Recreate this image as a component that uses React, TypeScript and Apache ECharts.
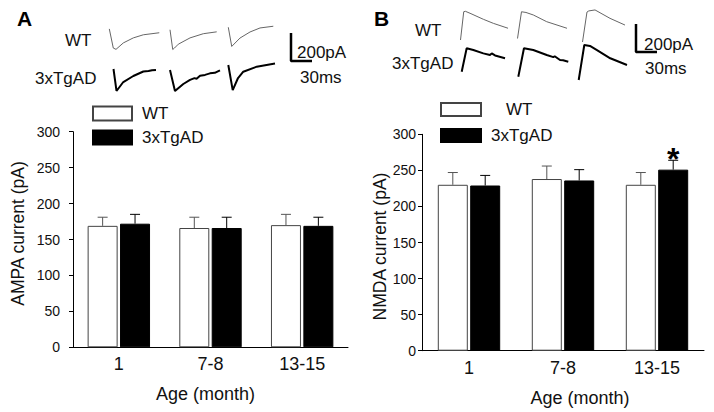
import React, { useEffect, useRef } from 'react';
import * as echarts from 'echarts';

const FONT = '"Liberation Sans", Arial, Helvetica, sans-serif';

// ---- bar chart data ----
const ageGroups = ['1', '7-8', '13-15'];
const seriesNames = ['WT', '3xTgAD'];
const ampaWT = [169, 166, 170];
const ampaWTErr = [12, 15, 15];
const ampaTg = [172, 166, 169];
const ampaTgErr = [13, 15, 12];
const nmdaWT = [230, 238, 230];
const nmdaWTErr = [17, 18, 17];
const nmdaTg = [229, 236, 251];
const nmdaTgErr = [14, 15, 13];
const nmdaTgMarks = ['', '', '*'];
const yMax = 300;
const yStep = 50;

// ---- example traces: [time (ms), current (pA)] ----
const ampaWTTraces = [
  [[0, 0], [5.7, -179], [9.6, -191], [20, -131], [34.3, -84], [48.6, -55], [71.4, -36]],
  [[0, 0], [3.9, -179], [6.4, -166], [11.9, -131], [28.6, -74], [47.6, -36], [66.7, -19]],
  [[0, 0], [4.9, -190], [16.7, -107], [31, -47], [45.3, -7], [64.3, 10]],
];
const ampaTgTraces = [
  [[0, 0], [4.3, -157], [14, -93], [28.3, -50], [42.6, -18], [50, -14], [55, -9], [60.7, -7]],
  [[0, 0], [7.1, -150], [19, -100], [28.6, -71], [35, -58], [38, -63], [42.9, -41], [50, -35], [57.1, -24], [64, -20], [71.4, -2]],
  [[0, 0], [6.3, -179], [13.9, -93], [21.4, -48], [40.6, -12], [66.7, 10]],
];
const nmdaWTTraces = [
  [[0, 0], [4.6, 202], [7, 205], [13.6, 191], [32.6, 148], [46.9, 119], [67.9, 84]],
  [[0, 0], [5.7, 191], [12.1, 186], [22.6, 168], [41.7, 120], [70.7, 73]],
  [[0, 0], [6.4, 214], [9, 222], [17.9, 229], [39.3, 169], [60.7, 121]],
];
const nmdaTgTraces = [
  [[0, 0], [7.1, 167], [16.6, 155], [30.9, 131], [40.4, 119], [42.9, 131], [47.6, 116], [61.9, 96]],
  [[0, 0], [8.1, 203], [21.4, 191], [40.6, 155], [50, 140], [52, 146], [59.6, 119], [64, 117], [71.4, 107]],
  [[0, 0], [8, 250], [16.1, 243], [26.1, 214], [45.1, 155], [69, 107]],
];
const scaleBar = [[0, 200], [0, 0], [30, 0]]; // 200 pA, 30 ms

// trace layout (pixel anchors of each trace start)
const ampaWTAnchors = [[109.3, 20], [170, 21.7], [228.3, 16.7]];
const ampaTgAnchors = [[113.5, 69], [170, 70], [228.3, 65]];
const nmdaWTAnchors = [[460.5, 40], [517.5, 38.5], [582.5, 42]];
const nmdaTgAnchors = [[461.7, 71.7], [518.3, 76.7], [578.7, 80]];
const scaleAnchors = [[291, 61], [636, 52]];

const PX_PER_MS = 0.7;
const PX_PER_PA = 0.14;
const T_MAX = 80;
const I_LIM = 270;

const BAR_W = 30;
const BAR_GAP = '8%';
const OFFSET = (BAR_W * 1.08) / 2;

export default function App() {
  const ref = useRef<HTMLDivElement>(null);
  useEffect(() => {
    if (!ref.current) return;
    const chart = echarts.init(ref.current, null, { renderer: 'svg' });

    const grids: any[] = [
      { left: 73, top: 131.7, width: 275, height: 215.6 },
      { left: 422, top: 134.3, width: 282, height: 216.4 },
    ];
    const xAxes: any[] = [];
    const yAxes: any[] = [];
    const series: any[] = [];

    const catAxis = (gi: number, namePad: number[]) => ({
      gridIndex: gi,
      type: 'category',
      data: ageGroups,
      axisLine: { lineStyle: { color: '#000', width: 1 } },
      axisTick: { show: false },
      axisLabel: { fontSize: 18, margin: 8, color: '#111', fontFamily: FONT },
      name: 'Age (month)',
      nameLocation: 'middle',
      nameGap: 38,
      nameTextStyle: { fontSize: 18, color: '#111', fontFamily: FONT, padding: namePad },
    });
    const valAxis = (gi: number, name: string, margin: number, nameGap: number, namePad: number[]) => ({
      gridIndex: gi,
      type: 'value',
      min: 0,
      max: yMax,
      interval: yStep,
      axisLine: { show: true, lineStyle: { color: '#000', width: 1 } },
      axisTick: { show: true, length: 4, lineStyle: { color: '#000' } },
      splitLine: { show: false },
      axisLabel: { fontSize: 14, color: '#111', margin, fontFamily: FONT },
      name,
      nameLocation: 'middle',
      nameGap,
      nameTextStyle: { fontSize: 17.5, color: '#111', fontFamily: FONT, padding: namePad },
    });
    xAxes.push(catAxis(0, [0, 10, 0, 0]), catAxis(1, [0, 0, 0, 34]));
    yAxes.push(
      valAxis(0, 'AMPA current (pA)', 13, 46, [0, 0, 0, 12]),
      valAxis(1, 'NMDA current (pA)', 6, 32, [0, 8, 0, 0]),
    );

    const barPair = (ai: number, wt: number[], tg: number[]) => [
      {
        type: 'bar', name: seriesNames[0], xAxisIndex: ai, yAxisIndex: ai, data: wt,
        barWidth: BAR_W, barGap: BAR_GAP,
        itemStyle: { color: '#fff', borderColor: '#444', borderWidth: 1 },
      },
      {
        type: 'bar', name: seriesNames[1], xAxisIndex: ai, yAxisIndex: ai, data: tg,
        barWidth: BAR_W, barGap: BAR_GAP,
        itemStyle: { color: '#000', borderColor: '#000', borderWidth: 1 },
      },
    ];
    const errSeries = (ai: number, means: number[], errs: number[], offset: number, color: string, marks?: string[]) => ({
      type: 'custom',
      xAxisIndex: ai,
      yAxisIndex: ai,
      silent: true,
      z: 3,
      data: means.map((m, i) => [i, m, errs[i]]),
      renderItem: (params: any, api: any) => {
        const i = api.value(0);
        const m = api.value(1);
        const e = api.value(2);
        const base = api.coord([i, m]);
        const top = api.coord([i, m + e]);
        const x = base[0] + offset;
        const children: any[] = [
          { type: 'line', shape: { x1: x, y1: base[1], x2: x, y2: top[1] }, style: { stroke: color, lineWidth: 1 } },
          { type: 'line', shape: { x1: x - 5, y1: top[1], x2: x + 5, y2: top[1] }, style: { stroke: color, lineWidth: 1 } },
        ];
        const mark = marks ? marks[params.dataIndex] : '';
        if (mark) {
          children.push({
            type: 'text',
            style: {
              text: mark, x, y: top[1] - 1, fontSize: 32, fontWeight: 'bold', fontFamily: FONT,
              textAlign: 'center', textVerticalAlign: 'middle', fill: '#000',
            },
          });
        }
        return { type: 'group', children };
      },
    });

    series.push(...barPair(0, ampaWT, ampaTg), ...barPair(1, nmdaWT, nmdaTg));
    series.push(
      errSeries(0, ampaWT, ampaWTErr, -OFFSET, '#555'),
      errSeries(0, ampaTg, ampaTgErr, OFFSET, '#000'),
      errSeries(1, nmdaWT, nmdaWTErr, -OFFSET, '#555'),
      errSeries(1, nmdaTg, nmdaTgErr, OFFSET, '#000', nmdaTgMarks),
    );

    const addTraceGrid = (anchor: number[], data: number[][], color: string, width: number) => {
      const gi = grids.length;
      grids.push({
        left: anchor[0],
        top: anchor[1] - I_LIM * PX_PER_PA,
        width: T_MAX * PX_PER_MS,
        height: 2 * I_LIM * PX_PER_PA,
      });
      xAxes.push({ gridIndex: gi, type: 'value', min: 0, max: T_MAX, show: false });
      yAxes.push({ gridIndex: gi, type: 'value', min: -I_LIM, max: I_LIM, show: false });
      series.push({
        type: 'line', xAxisIndex: gi, yAxisIndex: gi, data, showSymbol: false, clip: false, silent: true,
        lineStyle: { color, width }, itemStyle: { color },
      });
    };
    ampaWTTraces.forEach((d, i) => addTraceGrid(ampaWTAnchors[i], d, '#666', 1));
    ampaTgTraces.forEach((d, i) => addTraceGrid(ampaTgAnchors[i], d, '#000', 2));
    nmdaWTTraces.forEach((d, i) => addTraceGrid(nmdaWTAnchors[i], d, '#666', 1));
    nmdaTgTraces.forEach((d, i) => addTraceGrid(nmdaTgAnchors[i], d, '#000', 2));
    scaleAnchors.forEach((a) => addTraceGrid(a, scaleBar, '#000', 2.5));

    const txt = (text: string, x: number, y: number, extra: any = {}) => ({
      type: 'text',
      style: {
        text, x, y, fontSize: 17, fontFamily: FONT, fill: '#111',
        textAlign: 'left', textVerticalAlign: 'middle', ...extra,
      },
    });

    const legendText = { fontSize: 17, fontFamily: FONT, color: '#111' };
    const legendBase = {
      orient: 'vertical',
      icon: 'rect',
      selectedMode: false,
      padding: 0,
      data: seriesNames,
      textStyle: { ...legendText, padding: [0, 0, 0, 5] },
    };

    chart.setOption({
      animation: false,
      backgroundColor: '#fff',
      grid: grids,
      xAxis: xAxes,
      yAxis: yAxes,
      series,
      legend: [
        { ...legendBase, left: 92, top: 105, itemWidth: 39, itemHeight: 14, itemGap: 7 },
        {
          ...legendBase, left: 440, top: 101, itemWidth: 40, itemHeight: 13, itemGap: 9,
          formatter: (name: string) => (name === 'WT' ? '{w|' + name + '}' : name),
          textStyle: { ...legendText, padding: [0, 0, 0, 5], rich: { w: { ...legendText, padding: [0, 0, 0, 15] } } },
        },
      ],
      graphic: [
        txt('A', 17, 18, { fontSize: 21, fontWeight: 'bold', fill: '#000' }),
        txt('B', 374, 18, { fontSize: 21, fontWeight: 'bold', fill: '#000' }),
        txt('WT', 65, 40),
        txt('3xTgAD', 35, 78),
        txt('WT', 415, 30),
        txt('3xTgAD', 392, 63),
        txt('200pA', 297, 52),
        txt('30ms', 300, 77),
        txt('200pA', 644, 44),
        txt('30ms', 645, 68),
      ],
    });
    return () => chart.dispose();
  }, []);
  return <div ref={ref} style={{ position: 'fixed', left: 0, top: 0, width: 714, height: 412 }} />;
}
